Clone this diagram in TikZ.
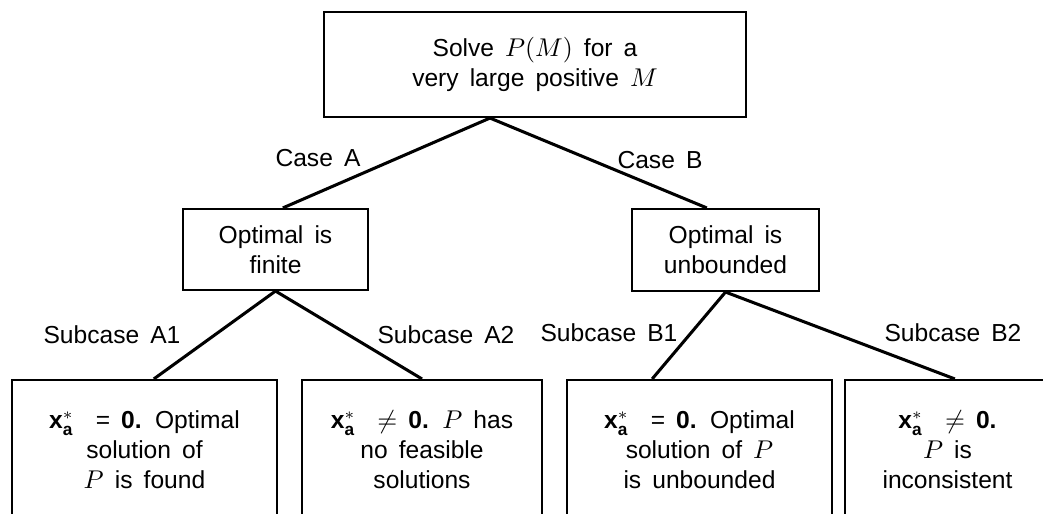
\documentclass[tikz,border=0pt]{standalone}
\usepackage{amsmath}
\usepackage{fontspec}
\setmainfont{Liberation Sans}
\usepackage{tikz}

\newcommand{\boxfont}{\fontsize{10.5}{12.8}\selectfont\spaceskip=0.45em plus 0.1em\relax}
\newcommand{\xa}{\textbf{x}$^{*}_{\textbf{a}}$}

\begin{document}
\begin{tikzpicture}[
  x=0.015cm, y=-0.015cm,
  box/.style={draw, line width=0.9pt, align=center, inner sep=0pt, font=\boxfont},
  leaf/.style={box, minimum height=2.1cm},
  branch/.style={line width=1.3pt},
  lab/.style={font=\boxfont},
]
  \clip (0,0) rectangle (1043,514);

  % Top problem
  \node[box, minimum width=6.33cm, minimum height=1.575cm] (solve) at (535,64.5)
    {Solve $P(M)$ for a\\very large positive $M$};
  \coordinate (fork) at ([xshift=-0.675cm]solve.south);

  % Cases
  \node[box, minimum width=2.775cm, minimum height=1.215cm] (finite) at (275.5,249.5)
    {Optimal is\\finite};
  \node[box, minimum width=2.805cm, minimum height=1.23cm] (unbdd) at (725.5,250)
    {Optimal is\\unbounded};
  \draw[branch] (fork) -- ([xshift=0.11cm]finite.north);
  \draw[branch] (fork) -- ([xshift=-0.28cm]unbdd.north);
  \node[lab] (caseA) at (318,158) {Case A};
  \node[lab] (caseB) at (660,160) {Case B};

  % Subcases
  \node[leaf, minimum width=3.975cm] (subAone) at (144.5,450)
    {\xa\ \ = \textbf{0.} Optimal\\solution of\\$P$ is found};
  \node[leaf, minimum width=3.6cm] (subAtwo) at (422,450)
    {\xa\ \ $\neq$ \textbf{0.} $P$ has\\no feasible\\solutions};
  \node[leaf, minimum width=3.975cm] (subBone) at (699.5,450)
    {\xa\ \ = \textbf{0.} Optimal\\solution of $P$\\is unbounded};
  \node[leaf, minimum width=3.075cm] (subBtwo) at (947.5,450)
    {\xa\ \ $\neq$ \textbf{0.}\\$P$ is\\inconsistent};

  \draw[branch] (finite.south) -- ([xshift=0.14cm]subAone.north);
  \draw[branch] (finite.south) -- (subAtwo.north);
  \draw[branch] (unbdd.south) -- ([xshift=-0.71cm]subBone.north);
  \draw[branch] (unbdd.south) -- ([xshift=0.11cm]subBtwo.north);

  \node[lab] (labAone) at (112,335) {Subcase A1};
  \node[lab] (labAtwo) at (446,335) {Subcase A2};
  \node[lab] (labBone) at (609,333) {Subcase B1};
  \node[lab] (labBtwo) at (953,333) {Subcase B2};
\end{tikzpicture}
\end{document}
